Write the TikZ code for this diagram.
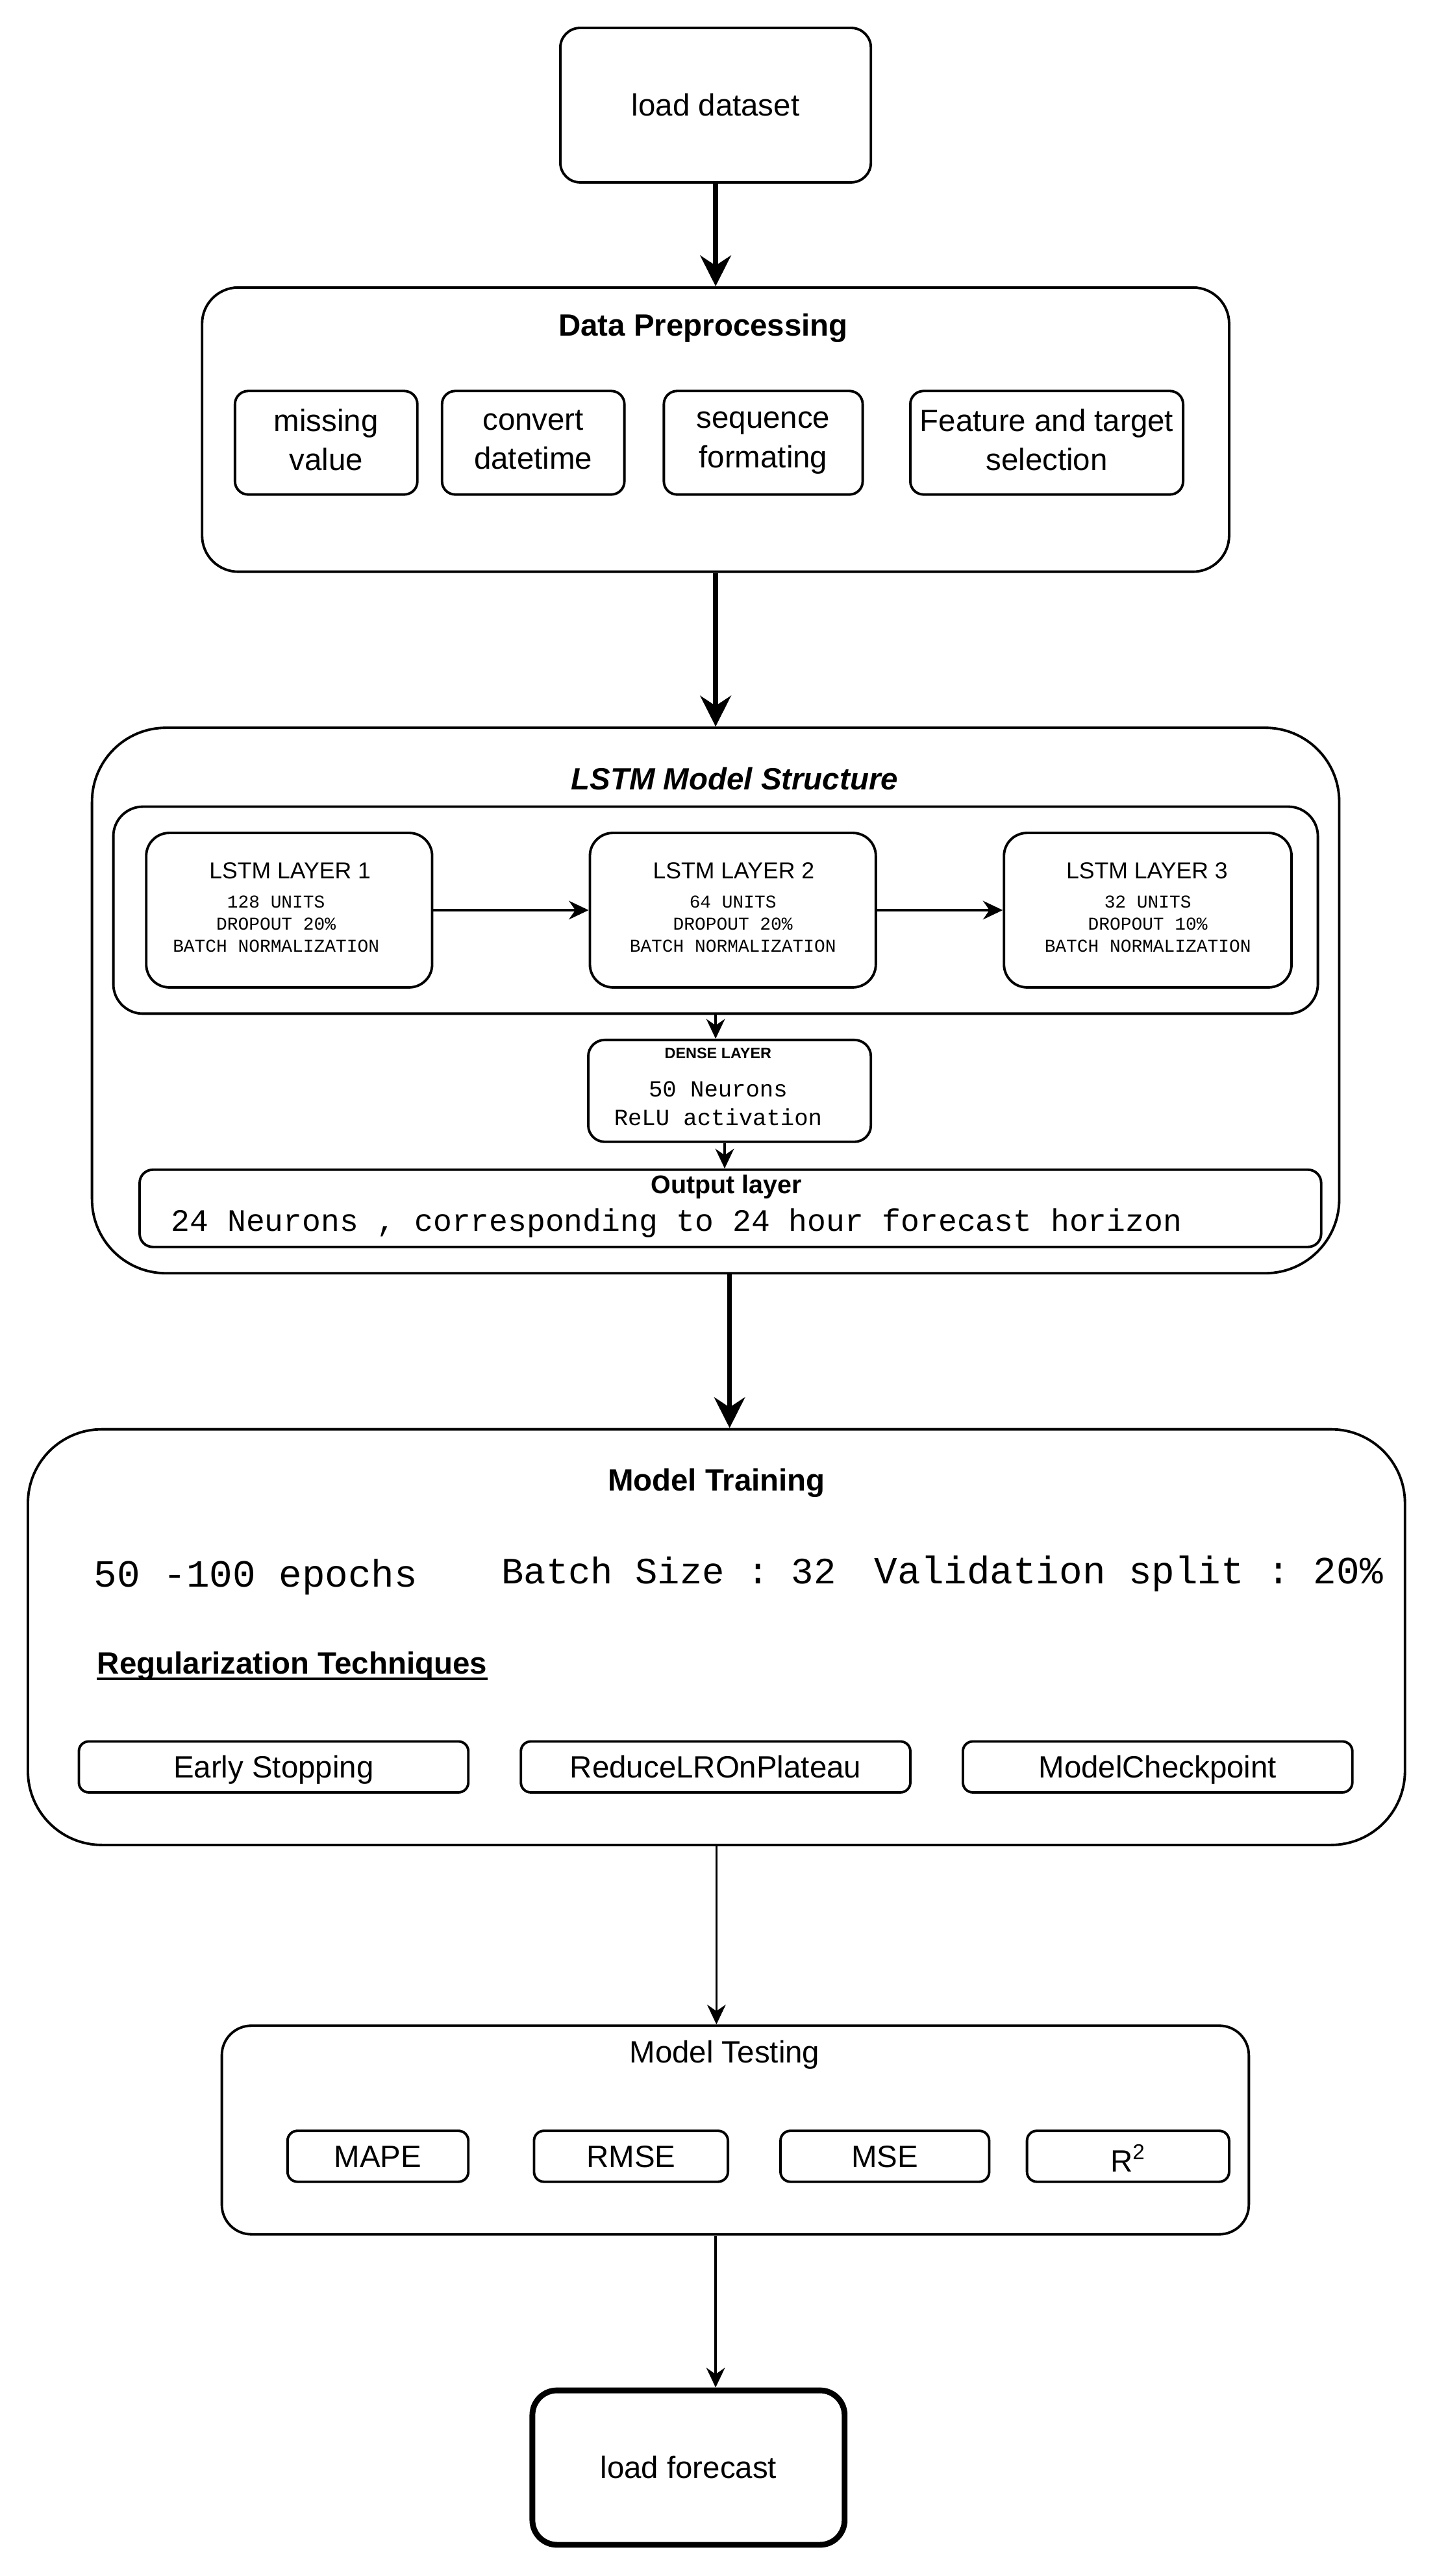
\documentclass[tikz,border=0pt]{standalone}
\usepackage{fontspec}
\setmainfont{Liberation Sans}
\setmonofont{Liberation Mono}
\usetikzlibrary{arrows.meta}
\newcommand{\boxstrut}{\rule[-0.2em]{0pt}{1.1em}}
\newcommand{\tallstrut}{\rule[-0.2em]{0pt}{1.3em}}
\tikzstyle{block} = [rectangle, draw, line width=1.3pt, rounded corners=0.24cm,
    align=center, inner sep=0pt, font=\fontsize{16}{20.5}\selectfont,
    execute at begin node=\boxstrut, execute at end node=\boxstrut]
\tikzstyle{twoline} = [execute at begin node=\tallstrut]
\tikzstyle{panel} = [rectangle, draw, line width=1.3pt, inner sep=0pt]
\tikzstyle{txt} = [inner sep=0pt, align=center,
    execute at begin node=\boxstrut, execute at end node=\boxstrut]
\tikzstyle{link} = [draw, line width=1.2pt, -{Stealth[length=0.36cm, width=0.34cm]}]
\tikzstyle{bold link} = [draw, line width=2.6pt, -{Stealth[length=0.56cm, width=0.56cm]}]

\begin{document}
\begin{tikzpicture}[x=0.03cm, y=-0.03cm]
        \useasboundingbox (0,0) rectangle (873,1568);

        % Place nodes
        \node [block, rounded corners=0.36cm, minimum width=5.67cm, minimum height=2.82cm] (ld) at (435.5,64) {load dataset};

        \node [panel, rounded corners=0.66cm, minimum width=18.75cm, minimum height=5.19cm] (pre) at (435.5,261.5) {};
        \node [txt, font=\bfseries\fontsize{16}{19}\selectfont] (pretitle) at (428,198) {Data Preprocessing};
        \node [block, twoline, minimum width=3.33cm, minimum height=1.89cm] (miss) at (198.5,269.5) {missing\\value};
        \node [block, twoline, minimum width=3.33cm, minimum height=1.89cm] (conv) at (324.5,269.5) {convert\\datetime};
        \node [block, twoline, minimum width=3.63cm, minimum height=1.89cm] (seq) at (464.5,269.5) {sequence\\formating};
        \node [block, twoline, minimum width=4.98cm, minimum height=1.89cm] (feat) at (637,269.5) {Feature and target\\selection};

        \node [panel, rounded corners=1.35cm, minimum width=22.77cm, minimum height=9.96cm] (lstm) at (435.5,609) {};
        \node [txt, font=\bfseries\itshape\fontsize{16}{19}\selectfont] (lstmtitle) at (447,474) {LSTM Model Structure};
        \node [panel, rounded corners=0.54cm, minimum width=21.99cm, minimum height=3.78cm] (stack) at (435.5,554) {};
        \node [block, rounded corners=0.42cm, minimum width=5.22cm, minimum height=2.82cm] (l1) at (176,554) {};
        \node [txt, font=\fontsize{12}{14}\selectfont] (l1title) at (176.5,530) {LSTM LAYER 1};
        \node [txt, font=\ttfamily\fontsize{9.4}{11.5}\selectfont] (l1info) at (168,563.5) {128 UNITS\\DROPOUT 20\%\\BATCH NORMALIZATION};
        \node [block, rounded corners=0.42cm, minimum width=5.22cm, minimum height=2.82cm] (l2) at (446,554) {};
        \node [txt, font=\fontsize{12}{14}\selectfont] (l2title) at (446.5,530) {LSTM LAYER 2};
        \node [txt, font=\ttfamily\fontsize{9.4}{11.5}\selectfont] (l2info) at (446,563.5) {64 UNITS\\DROPOUT 20\%\\BATCH NORMALIZATION};
        \node [block, rounded corners=0.42cm, minimum width=5.25cm, minimum height=2.82cm] (l3) at (698.5,554) {};
        \node [txt, font=\fontsize{12}{14}\selectfont] (l3title) at (698,530) {LSTM LAYER 3};
        \node [txt, font=\ttfamily\fontsize{9.4}{11.5}\selectfont] (l3info) at (698.5,563.5) {32 UNITS\\DROPOUT 10\%\\BATCH NORMALIZATION};

        \node [block, rounded corners=0.3cm, minimum width=5.16cm, minimum height=1.86cm] (dense) at (444,664) {};
        \node [txt, font=\bfseries\fontsize{7.9}{9}\selectfont] (densetitle) at (437,641) {DENSE LAYER};
        \node [txt, font=\ttfamily\fontsize{12}{14.6}\selectfont] (denseinfo) at (437,673) {50 Neurons\\ReLU activation};

        \node [block, minimum width=21.57cm, minimum height=1.41cm] (out) at (444.5,735.5) {};
        \node [txt, font=\bfseries\fontsize{13.3}{15}\selectfont] (outtitle) at (442,721) {Output layer};
        \node [txt, anchor=west, font=\ttfamily\fontsize{16.2}{19}\selectfont] (outinfo) at (104,743) {24 Neurons , corresponding to 24 hour forecast horizon};

        \node [panel, rounded corners=1.35cm, minimum width=25.14cm, minimum height=7.59cm] (train) at (436,996.5) {};
        \node [txt, font=\bfseries\fontsize{16}{19}\selectfont] (traintitle) at (436,901) {Model Training};
        \node [inner sep=0pt, anchor=base west, font=\ttfamily\fontsize{20}{24}\selectfont] (epochs) at (57,966) {50 -100 epochs};
        \node [inner sep=0pt, anchor=base west, font=\ttfamily\fontsize{19.3}{24}\selectfont] (batch) at (305,964) {Batch Size : 32};
        \node [inner sep=0pt, anchor=base west, font=\ttfamily\fontsize{20}{24}\selectfont] (valid) at (532,964) {Validation split : 20\%};
        \node [inner sep=0pt, anchor=base west, font=\bfseries\fontsize{16}{19}\selectfont] (reg) at (59,1019) {Regularization Techniques};
        \draw [line width=1.4pt] ([yshift=-0.09cm]reg.base west) -- ([yshift=-0.09cm]reg.base east);
        \node [block, rounded corners=0.18cm, minimum width=7.11cm, minimum height=0.93cm] (early) at (166.5,1075.5) {Early Stopping};
        \node [block, rounded corners=0.18cm, minimum width=7.11cm, minimum height=0.93cm] (reduce) at (435.5,1075.5) {ReduceLROnPlateau};
        \node [block, rounded corners=0.18cm, minimum width=7.11cm, minimum height=0.93cm] (ckpt) at (704.5,1075.5) {ModelCheckpoint};

        \node [panel, rounded corners=0.54cm, minimum width=18.75cm, minimum height=3.81cm] (test) at (447.5,1296.5) {};
        \node [txt, font=\fontsize{16}{19}\selectfont] (testtitle) at (441,1249) {Model Testing};
        \node [block, rounded corners=0.18cm, minimum width=3.3cm, minimum height=0.93cm] (mape) at (230,1312.5) {MAPE};
        \node [block, rounded corners=0.18cm, minimum width=3.54cm, minimum height=0.93cm] (rmse) at (384,1312.5) {RMSE};
        \node [block, rounded corners=0.18cm, minimum width=3.81cm, minimum height=0.93cm] (mse) at (538.5,1312.5) {MSE};
        \node [block, rounded corners=0.18cm, minimum width=3.69cm, minimum height=0.93cm] (rsq) at (686.5,1312.5) {\raisebox{-0.15em}{R\textsuperscript{2}}};

        \node [block, line width=3pt, rounded corners=0.45cm, minimum width=5.7cm, minimum height=2.82cm] (fc) at (419,1502) {load forecast};

        % Draw edges
        \path [bold link] (ld) -- (pre);
        \path [bold link] (pre) -- (lstm);
        \path [link] (l1) -- (l2);
        \path [link] (l2) -- (l3);
        \path [link] (stack.south) -- (stack.south |- dense.north);
        \path [link] ([xshift=-0.09cm]dense.south) -- ([xshift=-0.09cm]dense.south |- out.north);
        \path [bold link] (lstm.south -| dense) -- (train.north -| dense);
        \path [link] (train.south) -- (train.south |- test.north);
        \path [link] (test.south -| ld) -- (fc.north -| ld);

\end{tikzpicture}
\end{document}
